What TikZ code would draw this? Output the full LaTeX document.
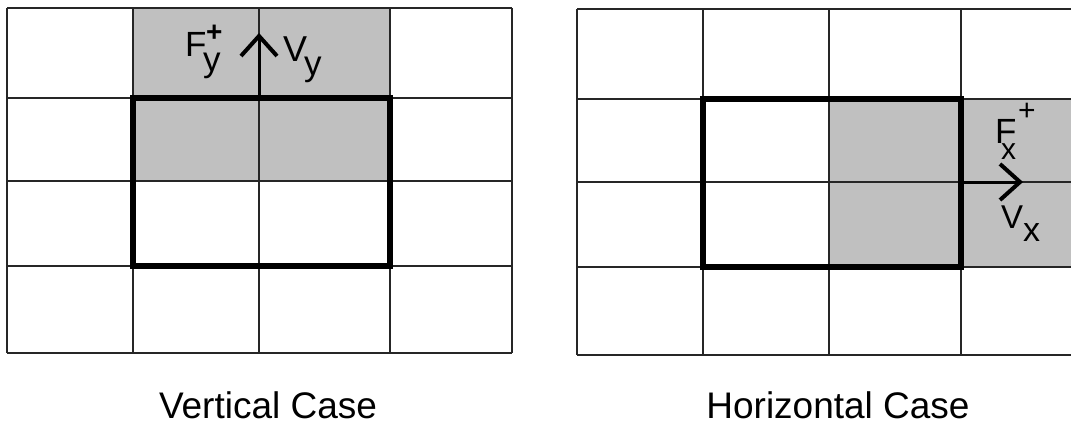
\documentclass[tikz,border=0pt]{standalone}
\usepackage{fontspec}
\setmainfont{Liberation Sans}
\usetikzlibrary{arrows.meta}
\definecolor{cellgray}{HTML}{C0C0C0}
\tikzset{
  gridline/.style={line width=1.3pt, draw=black!85},
  bold box/.style={line width=5.5pt, draw=black, line join=miter},
  flowarrow/.style={line width=3pt, -{Straight Barb[length=20pt,width=36pt,line width=4pt]}},
  lbl/.style={inner sep=0pt, anchor=base west},
  caption/.style={inner sep=0pt, anchor=base, font=\fontsize{37}{40}\selectfont}
}
\begin{document}
\begin{tikzpicture}[x=1pt,y=-1pt]
\useasboundingbox (0,0) rectangle (1071,428);
\clip (0,0) rectangle (1071,428);
% ---------- left (vertical case) ----------
\fill[cellgray] (133,8) rectangle (390,181);
\foreach \x in {7,133,259,390,512} \draw[gridline] (\x,8) -- (\x,353);
\foreach \y in {8,98,181,266,353} \draw[gridline] (7,\y) -- (512,\y);
\draw[bold box] (133,98) rectangle (390,266);
\coordinate (vs) at (259,98);
\coordinate (ve) at (259,33);
\draw[flowarrow] (vs) -- (ve);
\node[lbl, font=\fontsize{35}{40}\selectfont] (F1) at (185,57) {F};
\node[lbl, font=\fontsize{35}{40}\selectfont] (F1s) at (203,72) {y};
\node[lbl, font=\fontsize{28}{30}\selectfont\bfseries] (F1p) at (206,42) {+};
\node[lbl, font=\fontsize{36}{40}\selectfont] (V1) at (283,62) {V};
\node[lbl, font=\fontsize{35}{40}\selectfont] (V1s) at (304,75) {y};
\node[caption] (cap1) at (268,418) {Vertical Case};
% ---------- right (horizontal case) ----------
\fill[cellgray] (829,99) rectangle (1090,267);
\foreach \x in {577,703,829,961,1087} \draw[gridline] (\x,9) -- (\x,355);
\foreach \y in {9,99,182,267,355} \draw[gridline] (577,\y) -- (1087,\y);
\draw[bold box] (703,99) rectangle (961,267);
\coordinate (hs) at (961,182);
\coordinate (he) at (1023,182);
\draw[flowarrow] (hs) -- (he);
\node[lbl, font=\fontsize{35}{40}\selectfont] (F2) at (995,143) {F};
\node[lbl, font=\fontsize{30}{34}\selectfont] (F2s) at (1001,159) {x};
\node[lbl, font=\fontsize{30}{34}\selectfont] (F2p) at (1018,121) {+};
\node[lbl, font=\fontsize{33}{38}\selectfont] (V2) at (1001,228) {V};
\node[lbl, font=\fontsize{34}{38}\selectfont] (V2s) at (1023,241) {x};
\node[caption] (cap2) at (838,418) {Horizontal Case};
\end{tikzpicture}
\end{document}
